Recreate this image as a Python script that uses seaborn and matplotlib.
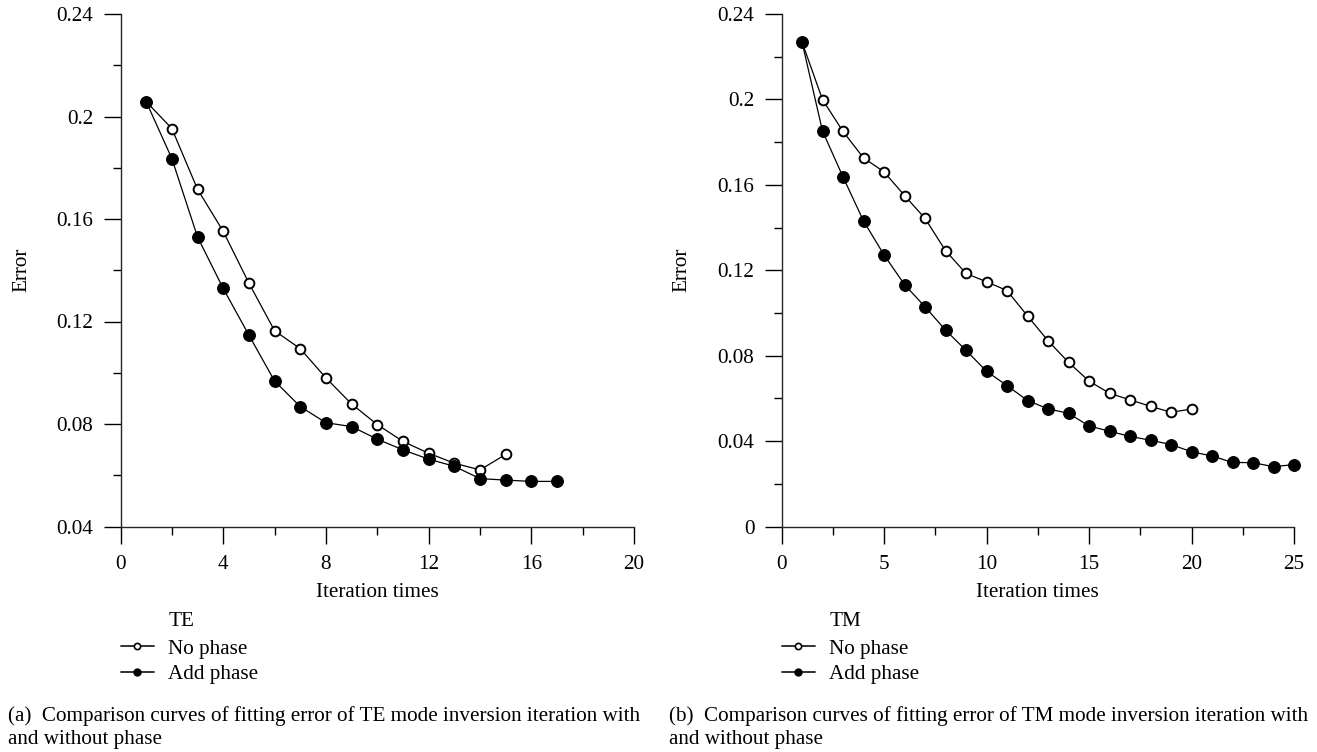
import numpy as np
import pandas as pd
import seaborn as sns
import matplotlib
matplotlib.use("Agg")
import matplotlib.pyplot as plt
from matplotlib.lines import Line2D
from matplotlib.ticker import MultipleLocator, FuncFormatter

# ---------------- data ----------------
te_no_x = list(range(1, 16))
te_no_y = [0.2058, 0.1953, 0.1716, 0.1552, 0.1350, 0.1164, 0.1094, 0.0980,
           0.0878, 0.0798, 0.0732, 0.0686, 0.0647, 0.0621, 0.0681]
te_add_x = list(range(1, 18))
te_add_y = [0.2058, 0.1836, 0.1530, 0.1329, 0.1147, 0.0968, 0.0868, 0.0805,
            0.0790, 0.0741, 0.0699, 0.0663, 0.0635, 0.0587, 0.0581, 0.0576, 0.0576]

tm_no_x = list(range(1, 21))
tm_no_y = [0.2269, 0.1999, 0.1850, 0.1726, 0.1661, 0.1550, 0.1443, 0.1292,
           0.1185, 0.1146, 0.1105, 0.0986, 0.0870, 0.0769, 0.0681, 0.0624,
           0.0593, 0.0563, 0.0535, 0.0550]
tm_add_x = list(range(1, 26))
tm_add_y = [0.2269, 0.1852, 0.1637, 0.1431, 0.1272, 0.1133, 0.1029, 0.0920,
            0.0825, 0.0727, 0.0660, 0.0590, 0.0551, 0.0530, 0.0471, 0.0446,
            0.0422, 0.0404, 0.0384, 0.0350, 0.0330, 0.0300, 0.0299, 0.0280, 0.0290]

series_names = ["No phase", "Add phase"]
legend_titles = ["TE", "TM"]
x_label = "Iteration times"
y_label = "Error"
captions = [
    "(a)  Comparison curves of fitting error of TE mode inversion iteration with\nand without phase",
    "(b)  Comparison curves of fitting error of TM mode inversion iteration with\nand without phase",
]

# ---------------- style ----------------
sns.set_theme(style="ticks")
plt.rcParams["font.family"] = ["Liberation Serif", "DejaVu Serif"]
plt.rcParams["axes.linewidth"] = 1.0
plt.rcParams["text.color"] = "black"
plt.rcParams["axes.labelcolor"] = "black"
plt.rcParams["xtick.color"] = "black"
plt.rcParams["ytick.color"] = "black"

W, H = 1317, 752
fig = plt.figure(figsize=(W / 100, H / 100), dpi=100)

FS = 15.2

def make_df(nx, ny, ax_, ay_):
    d1 = pd.DataFrame({"x": nx, "y": ny, "series": series_names[0]})
    d2 = pd.DataFrame({"x": ax_, "y": ay_, "series": series_names[1]})
    return d1, d2

def fmt(v, pos):
    s = f"{v:.2f}".rstrip("0").rstrip(".")
    return "0" if s in ("0", "-0") else s

def setup(ax_rect, d_no, d_add, xlim, xmaj, xmin_, ylim, ymaj, ymin_):
    ax = fig.add_axes(ax_rect)
    sns.lineplot(data=d_no, x="x", y="y", ax=ax, color="black", lw=0.9,
                 marker="o", markersize=7, markerfacecolor="white",
                 markeredgecolor="black", markeredgewidth=1.4, clip_on=False,
                 legend=False)
    sns.lineplot(data=d_add, x="x", y="y", ax=ax, color="black", lw=0.9,
                 marker="o", markersize=8.5, markerfacecolor="black",
                 markeredgecolor="black", clip_on=False, legend=False)
    ax.set_xlim(*xlim)
    ax.set_ylim(*ylim)
    ax.xaxis.set_major_locator(MultipleLocator(xmaj))
    ax.xaxis.set_minor_locator(MultipleLocator(xmin_))
    ax.yaxis.set_major_locator(MultipleLocator(ymaj))
    ax.yaxis.set_minor_locator(MultipleLocator(ymin_))
    ax.yaxis.set_major_formatter(FuncFormatter(fmt))
    ax.tick_params(which="major", direction="out", length=12.5, width=1.0,
                   labelsize=FS)
    ax.tick_params(axis="x", which="major", pad=8)
    ax.tick_params(axis="y", which="major", pad=7)
    ax.tick_params(which="minor", direction="out", length=6, width=1.0)
    sns.despine(ax=ax)
    ax.set_xlabel(x_label, fontsize=FS)
    ax.set_ylabel(y_label, fontsize=FS)
    ax.grid(False)
    return ax

bottom = 1 - 526.5 / H
height = (526.5 - 14) / H

ax1 = setup([120.5 / W, bottom, (634 - 120.5) / W, height],
            *make_df(te_no_x, te_no_y, te_add_x, te_add_y),
            (0, 20), 4, 2, (0.04, 0.24), 0.04, 0.02)
ax2 = setup([781.5 / W, bottom, (1294 - 781.5) / W, height],
            *make_df(tm_no_x, tm_no_y, tm_add_x, tm_add_y),
            (0, 25), 5, 2.5, (0.0, 0.24), 0.04, 0.02)

for ax, title, cap, cx, ylx in [(ax1, legend_titles[0], captions[0], 8, 31),
                                (ax2, legend_titles[1], captions[1], 669, 691)]:
    bb = ax.get_position()
    axw = bb.width * W
    axh = bb.height * H
    ax_left = bb.x0 * W
    ax_bot = (1 - bb.y0) * H
    ax.xaxis.set_label_coords(0.5, -(583 - ax_bot) / axh)
    ax.yaxis.set_label_coords(-(ax_left - ylx) / axw, 0.5)
    handles = [
        Line2D([], [], color="#222222", lw=1.3, marker="o", markersize=4.5,
               markerfacecolor="white", markeredgecolor="black", markeredgewidth=1.2),
        Line2D([], [], color="#222222", lw=1.3, marker="o", markersize=5,
               markerfacecolor="black", markeredgecolor="black"),
    ]
    ax.legend(handles, series_names, loc="upper left",
              bbox_to_anchor=(0.0, -(639 - ax_bot) / axh),
              frameon=False, fontsize=FS, handlelength=1.6,
              handletextpad=0.65, labelspacing=0.26, borderpad=0,
              borderaxespad=0)
    ax.text(48 / axw, -(621 - ax_bot) / axh, title,
            transform=ax.transAxes, fontsize=FS, ha="left", va="center")
    fig.text(cx / W, 1 - 706 / H, cap, fontsize=FS, ha="left", va="top",
             linespacing=1.3)

fig.savefig("out.png", dpi=100)
